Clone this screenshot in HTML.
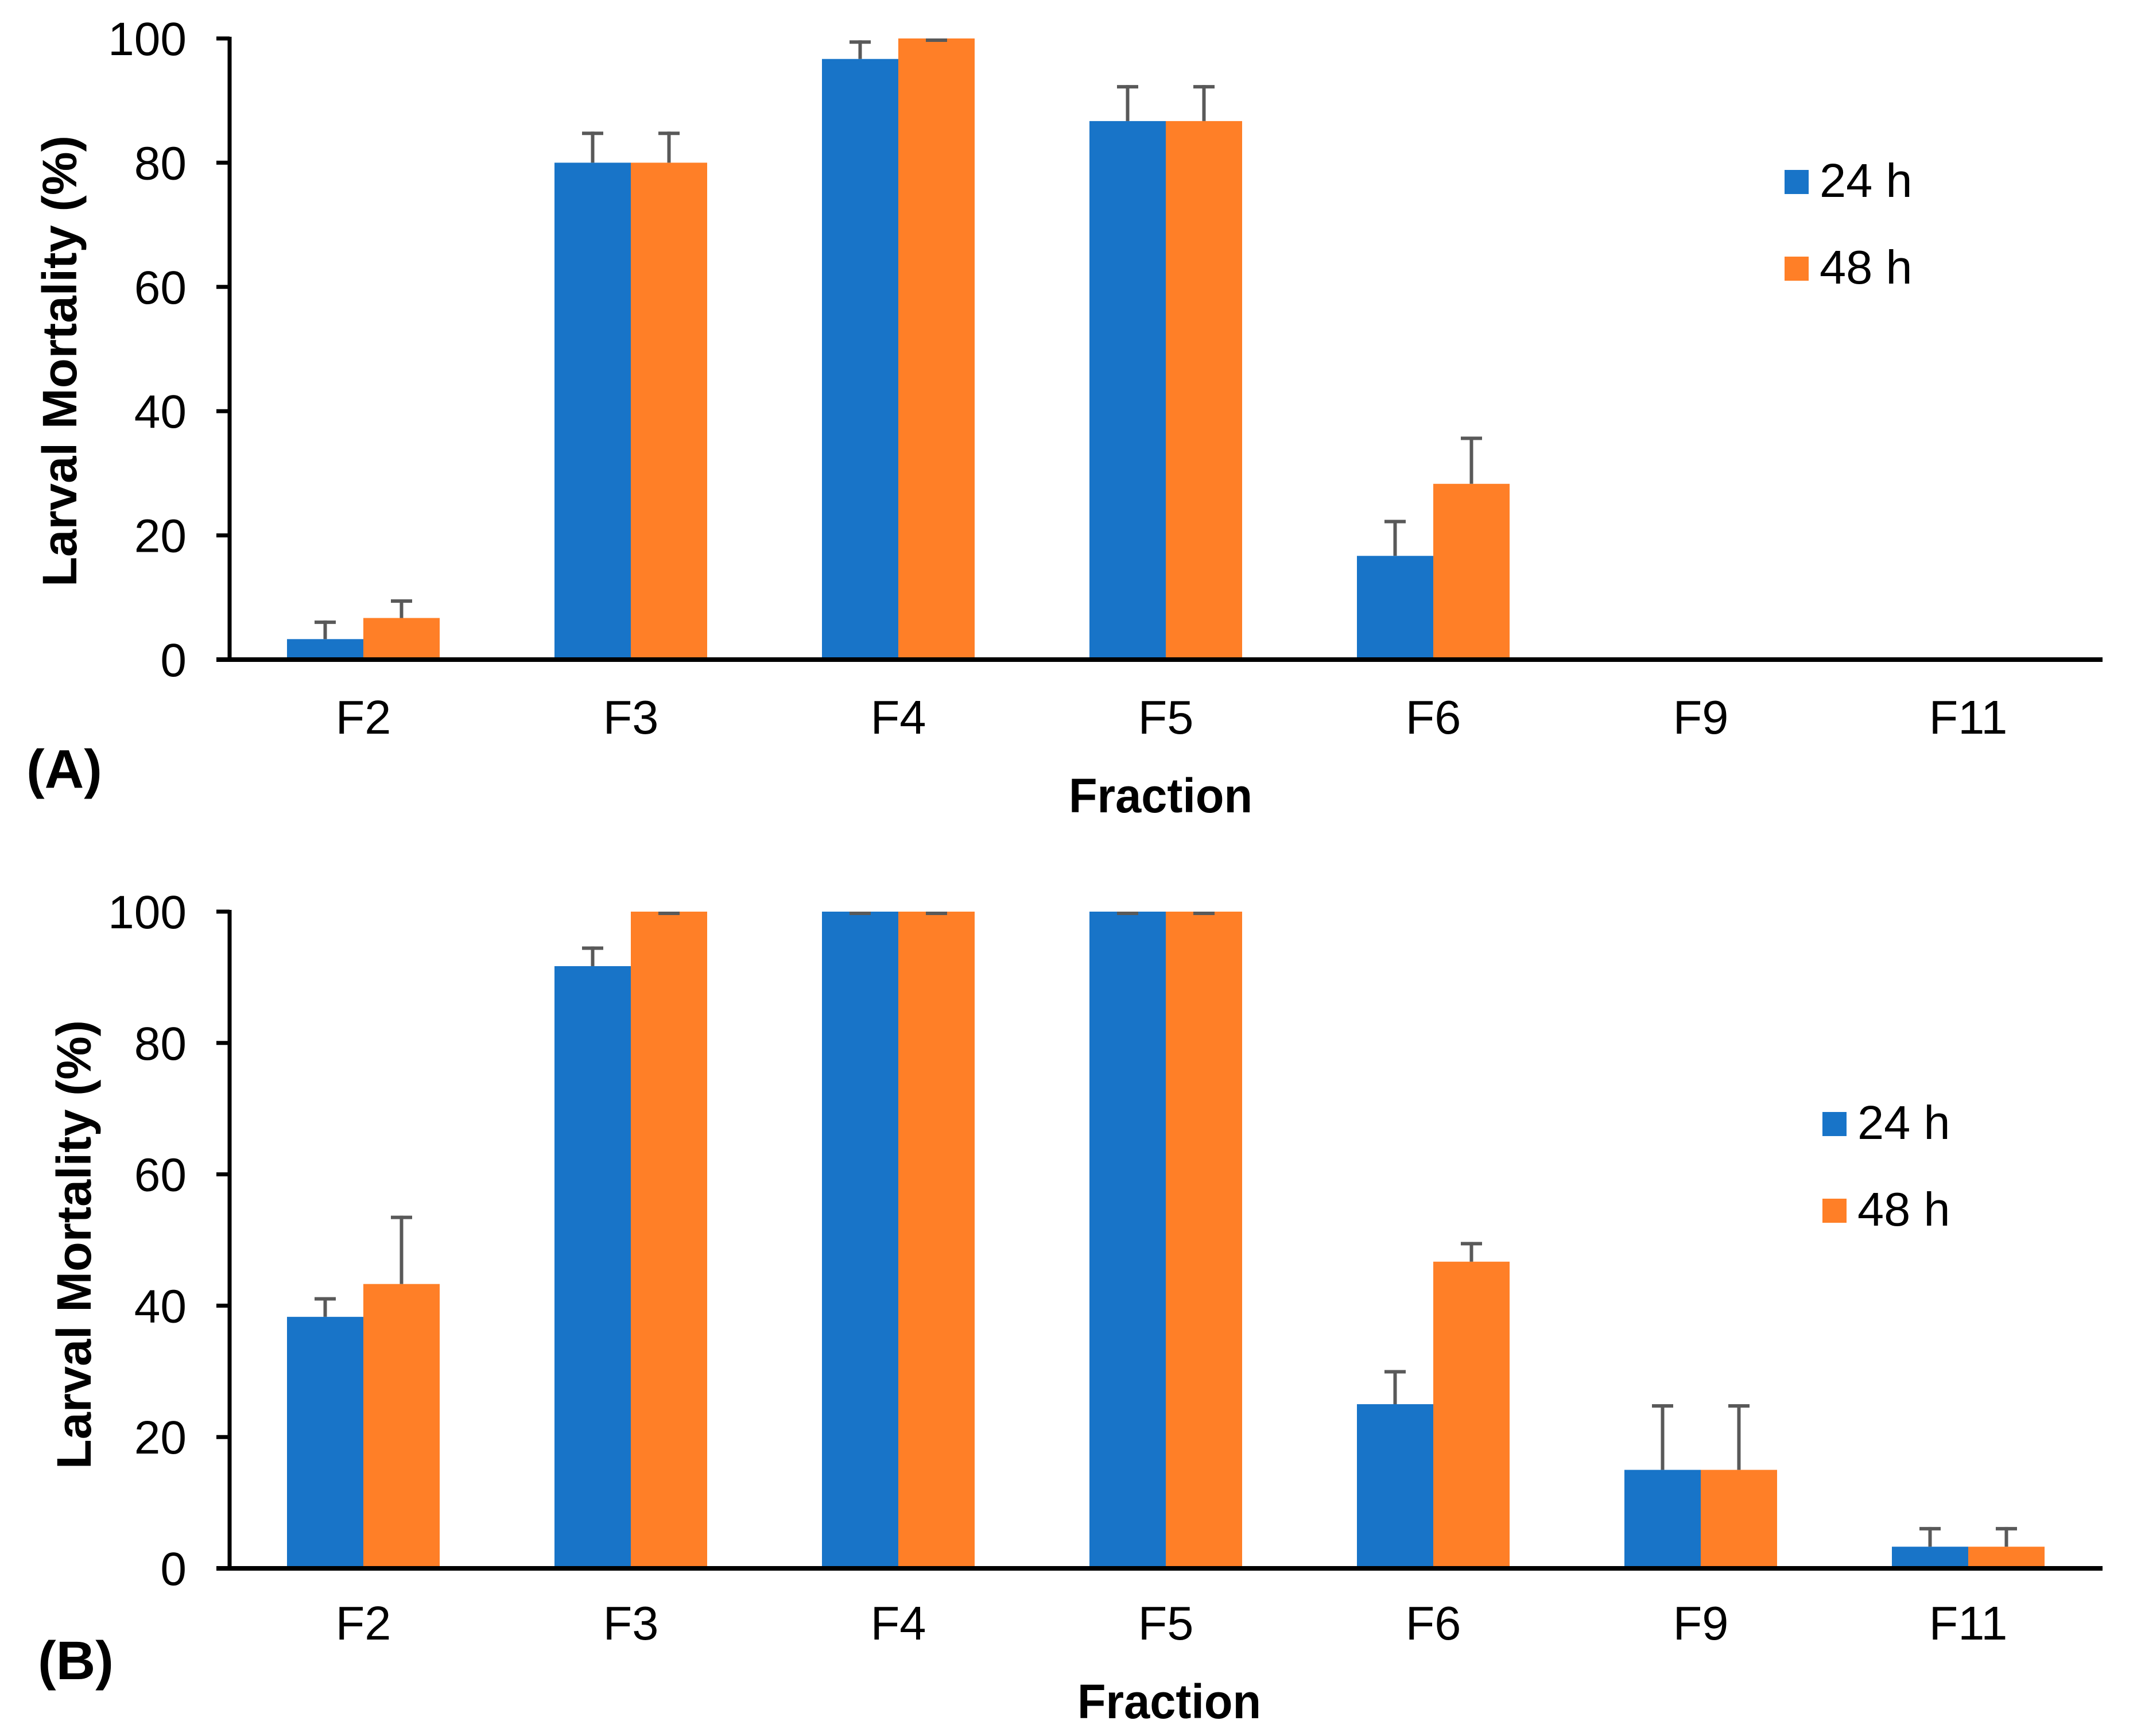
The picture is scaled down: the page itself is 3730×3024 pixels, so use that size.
<!DOCTYPE html>
<html><head><meta charset="utf-8"><style>
html,body{margin:0;padding:0;background:#fff;}
svg{display:block;font-family:"Liberation Sans",Arial,sans-serif;}
</style></head>
<body>
<svg id="chart" width="3730" height="3024" viewBox="0 0 3730 3024" xmlns="http://www.w3.org/2000/svg">
<rect x="0" y="0" width="3730" height="3024" fill="#fff"/>
</svg>
<script>
const categories = ["F2","F3","F4","F5","F6","F9","F11"];
const aValues24 = [3.3, 80, 96.7, 86.7, 16.7, 0, 0];
const aValues48 = [6.7, 80, 100, 86.7, 28.3, 0, 0];
const aErr24 = [3, 5, 3, 5.8, 5.8, 0, 0];
const aErr48 = [3, 5, 0, 5.8, 7.6, 0, 0];
const bValues24 = [38.3, 91.7, 100, 100, 25, 15, 3.3];
const bValues48 = [43.3, 100, 100, 100, 46.7, 15, 3.3];
const bErr24 = [3, 3, 0, 0, 5.2, 10, 3];
const bErr48 = [10.4, 0, 0, 0, 3, 10, 3];
const yTicks = [0, 20, 40, 60, 80, 100];
const seriesLabels = ["24 h", "48 h"];

const NS = "http://www.w3.org/2000/svg";
const svg = document.getElementById("chart");
const C24 = "#1874C8", C48 = "#FF7F27", ERR = "#595959";

function el(tag, attrs, parent) {
  const e = document.createElementNS(NS, tag);
  for (const k in attrs) e.setAttribute(k, attrs[k]);
  (parent || svg).appendChild(e);
  return e;
}

function panel(cfg) {
  const g = el("g", {});
  
  
  const x0 = 400, step = 466, bw = 133;
  const yScale = v => cfg.y0 - (cfg.y0 - cfg.y100) * v / 100;
  const xCenter = i => x0 + step * (i + 0.5);

  [[cfg.v24, cfg.e24, C24, "24h"], [cfg.v48, cfg.e48, C48, "48h"]].forEach((s, si) => {
    s[0].forEach((v, i) => {
      const xl = xCenter(i) - bw + si * bw;
      const yt = yScale(v);
      if (v > 0) {
        const r = el("rect", {x: xl, y: yt, width: bw, height: cfg.y0 - yt, fill: s[2]}, g);
        
        
      }
      const err = s[1][i];
      if (v > 0) {
        const cx = xl + bw / 2;
        const ye = yScale(v + err);
        const eg = el("g", {stroke: ERR}, g);
        
        
        if (err > 0) el("line", {x1: cx, y1: yt, x2: cx, y2: ye, "stroke-width": 6}, eg);
        el("line", {x1: cx - 18.5, y1: ye + 3, x2: cx + 18.5, y2: ye + 3, "stroke-width": 6}, eg);
      }
    });
  });

  const ya = el("line", {x1: 400, y1: cfg.y100 - 3, x2: 400, y2: cfg.y0 + 4, stroke: "#000", "stroke-width": 7}, g);
  
  
  const xa = el("line", {x1: 377, y1: cfg.y0, x2: 3663, y2: cfg.y0, stroke: "#000", "stroke-width": 8}, g);
  
  

  yTicks.forEach(t => {
    const y = yScale(t);
    const tk = el("line", {x1: 377, y1: y, x2: 400, y2: y, stroke: "#000", "stroke-width": 7}, g);
    
    
    const tl = el("text", {x: 325, y: y + 29, "font-size": 82, "text-anchor": "end", fill: "#000"}, g);
    
    
    tl.textContent = t;
  });

  categories.forEach((c, i) => {
    const t = el("text", {x: xCenter(i), y: cfg.y0 + cfg.catOff, "font-size": 83, "text-anchor": "middle", fill: "#000"}, g);
    
    
    t.textContent = c;
  });

  const yt = el("text", {x: 0, y: 0, "font-size": 84, "font-weight": "bold", "text-anchor": "middle", fill: "#000",
    textLength: cfg.titleLen, lengthAdjust: "spacingAndGlyphs",
    transform: "translate(" + cfg.titleX + "," + cfg.titleY + ") rotate(-90)"}, g);
  
  
  yt.textContent = "Larval Mortality  (%)";

  const xt = el("text", {x: cfg.fracX, y: cfg.fracY, "font-size": 84, "font-weight": "bold", "text-anchor": "middle", fill: "#000",
    textLength: 320, lengthAdjust: "spacingAndGlyphs"}, g);
  
  
  xt.textContent = "Fraction";

  const pl = el("text", {x: cfg.plX, y: cfg.plY, "font-size": 95, "font-weight": "bold", fill: "#000"}, g);
  
  
  pl.textContent = cfg.label;

  [C24, C48].forEach((col, k) => {
    const lg = el("g", {}, g);
    
    
    el("rect", {x: cfg.legX, y: cfg.legY + k * 151, width: 42, height: 42, fill: col}, lg);
    const lt = el("text", {x: cfg.legX + 61, y: cfg.legY + 47 + k * 151, "font-size": 83, fill: "#000"}, lg);
    lt.textContent = seriesLabels[k];
  });
}

panel({name: "panel-a", v24: aValues24, v48: aValues48, e24: aErr24, e48: aErr48,
  y0: 1149, y100: 67, catOff: 129, titleX: 133, titleY: 629, titleLen: 786,
  fracX: 2022, fracY: 1415, plX: 46, plY: 1372, label: "(A)", legX: 3109, legY: 296});
panel({name: "panel-b", v24: bValues24, v48: bValues48, e24: bErr24, e48: bErr48,
  y0: 2732, y100: 1588, catOff: 124, titleX: 158, titleY: 2168, titleLen: 782,
  fracX: 2037, fracY: 2993, plX: 66, plY: 2925, label: "(B)", legX: 3175, legY: 1937});
</script>
</body></html>
